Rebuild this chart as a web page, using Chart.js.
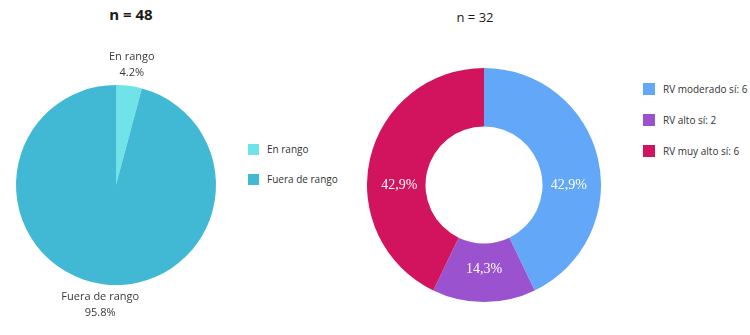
<!DOCTYPE html>
<html><head><meta charset="utf-8">
<script src="https://cdn.jsdelivr.net/npm/chart.js@4.4.1/dist/chart.umd.min.js"></script>
<style>
html,body{margin:0;padding:0;background:#fff;width:750px;height:335px;overflow:hidden;font-family:"Open Sans",sans-serif;}
#wrap{position:relative;width:750px;height:335px;}
canvas{position:absolute;}
.title{position:absolute;transform:translate(-50%,-50%);white-space:nowrap;color:#1a1a1a;}
.legend{position:absolute;font-size:10px;color:#333;}
.legend .item{position:absolute;white-space:nowrap;display:flex;align-items:center;}
.legend .box{display:inline-block;margin-right:8px;}
</style></head>
<body><div id="wrap">
<div class="title" id="t1" style="left:131px;top:14px;font-size:15px;font-weight:700;"></div>
<div class="title" id="t2" style="left:475px;top:17px;font-size:13px;font-weight:400;"></div>
<canvas id="c1" width="240" height="335" style="left:0;top:0;width:240px;height:335px;"></canvas>
<canvas id="c2" width="234" height="234" style="left:367px;top:68px;width:234px;height:234px;"></canvas>
<div class="legend" id="lg1" style="left:248px;top:0;"></div>
<div class="legend" id="lg2" style="left:643px;top:0;"></div>
</div>
<script>
// ---- data ----
const pieTitle = "n = 48";
const pieLabels = ["En rango", "Fuera de rango"];
const pieValues = [2, 46];
const pieColors = ["#6fe3e7", "#41b9d5"];

const donutTitle = "n = 32";
const donutLabels = ["RV moderado sí: 6", "RV alto sí: 2", "RV muy alto sí: 6"];
const donutValues = [6, 2, 6];
const donutColors = ["#63a8f8", "#9b52ce", "#d1145d"];

document.getElementById('t1').textContent = pieTitle;
document.getElementById('t2').textContent = donutTitle;

function buildLegend(id, labels, colors, startY, gap, box) {
  const el = document.getElementById(id);
  labels.forEach((l, i) => {
    const it = document.createElement('div');
    it.className = 'item';
    it.style.top = (startY + i * gap - box / 2) + 'px';
    it.style.height = box + 'px';
    const b = document.createElement('span');
    b.className = 'box';
    b.style.width = box + 'px'; b.style.height = box + 'px'; b.style.background = colors[i];
    const t = document.createElement('span');
    t.textContent = l;
    it.appendChild(b); it.appendChild(t);
    el.appendChild(it);
  });
}
buildLegend('lg1', pieLabels, pieColors, 149, 30, 11);
buildLegend('lg2', donutLabels, donutColors, 89, 31, 12);

const outsideLabels = {
  id: 'outsideLabels',
  afterDatasetsDraw(chart) {
    const ctx = chart.ctx;
    const meta = chart.getDatasetMeta(0);
    const data = chart.data.datasets[0].data;
    const total = data.reduce((a, b) => a + b, 0);
    ctx.save();
    ctx.fillStyle = '#3a3a3a';
    ctx.font = '11px "Open Sans"';
    ctx.textAlign = 'center';
    ctx.textBaseline = 'middle';
    meta.data.forEach((arc, i) => {
      const p = arc.getProps(['x', 'y', 'startAngle', 'endAngle', 'outerRadius'], true);
      const mid = (p.startAngle + p.endAngle) / 2;
      const r = p.outerRadius + 21;
      const x = p.x + Math.cos(mid) * r;
      const y = p.y + Math.sin(mid) * r;
      ctx.fillText(chart.data.labels[i], x, y - 8);
      ctx.fillText((data[i] / total * 100).toFixed(1) + '%', x, y + 8);
    });
    ctx.restore();
  }
};

const insideLabels = {
  id: 'insideLabels',
  afterDatasetsDraw(chart, args, opts) {
    const ctx = chart.ctx;
    const meta = chart.getDatasetMeta(0);
    const data = chart.data.datasets[0].data;
    const total = data.reduce((a, b) => a + b, 0);
    ctx.save();
    ctx.fillStyle = '#ffffff';
    ctx.font = '14px "Liberation Serif"';
    ctx.textAlign = 'center';
    ctx.textBaseline = 'middle';
    meta.data.forEach((arc, i) => {
      const p = arc.getProps(['x', 'y', 'innerRadius', 'outerRadius'], true);
      const a = opts.angles[i] * Math.PI / 180 - Math.PI / 2;
      const r = (p.innerRadius + p.outerRadius) / 2 - 3;
      const txt = (data[i] / total * 100).toFixed(1).replace('.', ',') + '%';
      ctx.fillText(txt, p.x + Math.cos(a) * r, p.y + Math.sin(a) * r);
    });
    ctx.restore();
  }
};

new Chart(document.getElementById('c1'), {
  type: 'pie',
  data: { labels: pieLabels, datasets: [{ data: pieValues, backgroundColor: pieColors, borderWidth: 0, hoverBorderWidth: 0, hoverOffset: 0 }] },
  options: {
    responsive: false, animation: false, events: [],
    layout: { padding: { left: 16, top: 85, right: 24, bottom: 50 } },
    plugins: { legend: { display: false }, tooltip: { enabled: false } }
  },
  plugins: [outsideLabels]
});

new Chart(document.getElementById('c2'), {
  type: 'doughnut',
  data: { labels: donutLabels, datasets: [{ data: donutValues, backgroundColor: donutColors, borderWidth: 0, hoverBorderWidth: 0, hoverOffset: 0 }] },
  options: {
    responsive: false, animation: false, events: [], cutout: '50%',
    layout: { padding: 0 },
    plugins: { legend: { display: false }, tooltip: { enabled: false }, insideLabels: { angles: [90, 180, 270] } }
  },
  plugins: [insideLabels]
});
</script>
</body></html>
